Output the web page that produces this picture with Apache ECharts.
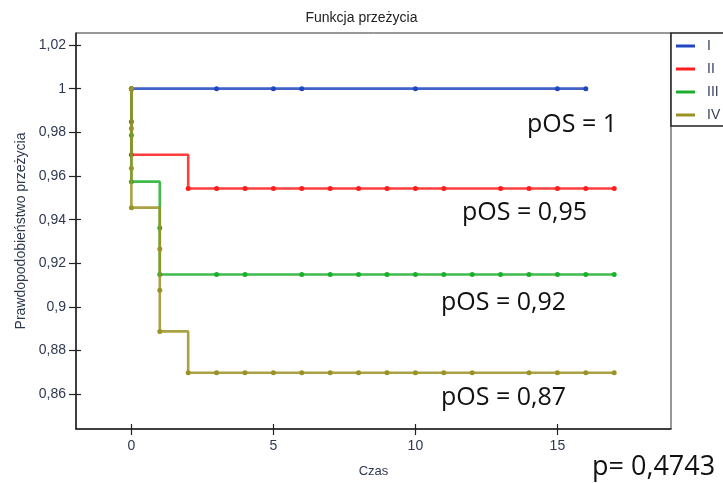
<!DOCTYPE html>
<html><head><meta charset="utf-8">
<script src="https://cdn.jsdelivr.net/npm/echarts@6/dist/echarts.min.js"></script>
<style>html,body{margin:0;padding:0;background:#fff}#c{width:723px;height:483px}</style>
</head><body><div id="c"></div>
<script>
// ---- data ----
const groupNames = ['I', 'II', 'III', 'IV'];
const timesI  = [0, 3, 5, 6, 10, 15, 16];
const survI   = [1, 1, 1, 1, 1, 1, 1];
const timesII = [0, 0, 0, 2, 3, 4, 5, 6, 7, 8, 9, 10, 11, 13, 14, 15, 16, 17];
const survII  = [1, 0.9848, 0.9697, 0.9543, 0.9543, 0.9543, 0.9543, 0.9543, 0.9543, 0.9543, 0.9543, 0.9543, 0.9543, 0.9543, 0.9543, 0.9543, 0.9543, 0.9543];
const timesIII = [0, 0, 0, 1, 1, 3, 4, 6, 7, 8, 9, 10, 11, 12, 13, 14, 15, 16, 17];
const survIII  = [1, 0.9787, 0.9574, 0.9362, 0.9149, 0.9149, 0.9149, 0.9149, 0.9149, 0.9149, 0.9149, 0.9149, 0.9149, 0.9149, 0.9149, 0.9149, 0.9149, 0.9149, 0.9149];
const timesIV = [0, 0, 0, 0, 1, 1, 1, 2, 3, 4, 5, 6, 7, 8, 9, 10, 11, 12, 14, 15, 16, 17];
const survIV  = [1, 0.9818, 0.9636, 0.9455, 0.9266, 0.9077, 0.8888, 0.8699, 0.8699, 0.8699, 0.8699, 0.8699, 0.8699, 0.8699, 0.8699, 0.8699, 0.8699, 0.8699, 0.8699, 0.8699, 0.8699, 0.8699];
const xTicks = [0, 5, 10, 15];
const yTicks = [0.86, 0.88, 0.9, 0.92, 0.94, 0.96, 0.98, 1, 1.02];
const annotations = ['pOS = 1', 'pOS = 0,95', 'pOS = 0,92', 'pOS = 0,87', 'p= 0,4743'];
const titleText = 'Funkcja przeżycia';
const xName = 'Czas';
const yName = 'Prawdopodobieństwo przeżycia';

// ---- styling ----
const colors = ['#2046c0', '#ff1c1c', '#1caf2c', '#9a9224'];
const FONT = '"Liberation Sans", Arial, sans-serif';
const labelColor = '#2e3850';
const zip = (t, s) => t.map((v, i) => [v, s[i]]);
const seriesData = [zip(timesI, survI), zip(timesII, survII), zip(timesIII, survIII), zip(timesIV, survIV)];
const fmt = v => String(+(+v).toFixed(2)).replace('.', ',');

const xRange = {min: -1.95, max: 19};
const yRange = {min: 0.8441, max: 1.0255};

const chart = echarts.init(document.getElementById('c'), null, {renderer: 'canvas'});
const annPos = [[527, 125], [462, 213], [441, 303], [441, 398], [592, 467]];
const annSize = [25, 25, 25, 25, 27];

chart.setOption({
  animation: false,
  backgroundColor: '#fff',
  title: {
    text: titleText, left: 'center', top: 6,
    textStyle: {fontFamily: FONT, fontSize: 14, fontWeight: 'normal', color: '#222'}
  },
  grid: {left: 76, right: 52, top: 33, bottom: 54, show: true, borderColor: '#333', borderWidth: 1, backgroundColor: 'transparent'},
  legend: {
    data: groupNames, orient: 'vertical', left: 671, top: 33,
    padding: [6, 60, 4, 5], itemGap: 9, itemWidth: 19, itemHeight: 3, icon: 'rect',
    backgroundColor: '#fff', borderColor: '#222', borderWidth: 1.5,
    textStyle: {fontFamily: FONT, fontSize: 14, color: '#3a3f5a', lineHeight: 14, padding: [0, 0, 0, 7]}
  },
  xAxis: [{
    type: 'value', min: xRange.min, max: xRange.max, position: 'bottom',
    name: xName, nameLocation: 'middle', nameGap: 36,
    nameTextStyle: {fontFamily: FONT, fontSize: 13, color: labelColor},
    axisLine: {onZero: false, lineStyle: {color: '#222', width: 1.5}},
    axisTick: {show: true, inside: false, length: 6, customValues: xTicks, lineStyle: {color: '#222', width: 1.2}},
    axisLabel: {customValues: xTicks, formatter: fmt, fontFamily: FONT, fontSize: 14, color: labelColor, margin: 10},
    splitLine: {show: false}
  }, {
    type: 'value', min: xRange.min, max: xRange.max, position: 'bottom',
    axisLine: {show: false, onZero: false},
    axisTick: {show: true, inside: true, length: 5, customValues: xTicks, lineStyle: {color: '#222', width: 1.2}},
    axisLabel: {show: false}, splitLine: {show: false}
  }],
  yAxis: [{
    type: 'value', min: yRange.min, max: yRange.max, position: 'left',
    name: yName, nameLocation: 'middle', nameGap: 48, nameRotate: 90,
    nameTextStyle: {fontFamily: FONT, fontSize: 14, color: labelColor},
    axisLine: {onZero: false, lineStyle: {color: '#222', width: 1.5}},
    axisTick: {show: true, inside: false, length: 7, customValues: yTicks, lineStyle: {color: '#222', width: 1.2}},
    axisLabel: {customValues: yTicks, formatter: fmt, fontFamily: FONT, fontSize: 14, color: labelColor, margin: 10},
    splitLine: {show: false}
  }, {
    type: 'value', min: yRange.min, max: yRange.max, position: 'left',
    axisLine: {show: false, onZero: false},
    axisTick: {show: true, inside: true, length: 5, customValues: yTicks, lineStyle: {color: '#222', width: 1.2}},
    axisLabel: {show: false}, splitLine: {show: false}
  }],
  series: groupNames.map((n, i) => ({
    name: n, type: 'line', step: 'end', data: seriesData[i],
    xAxisIndex: 0, yAxisIndex: 0,
    color: colors[i],
    lineStyle: {color: colors[i], width: 2.6, opacity: 0.85},
    symbol: 'circle', symbolSize: 5, showSymbol: true, showAllSymbol: true,
    itemStyle: {color: colors[i]},
    z: 2 + i
  })),
  graphic: annotations.map((t, i) => ({
    type: 'text', x: annPos[i][0], y: annPos[i][1], z: 100,
    style: {text: t, fontFamily: '"Open Sans", "Liberation Sans", sans-serif', fontSize: annSize[i], fill: '#111', verticalAlign: 'middle'}
  }))
});
</script></body></html>
